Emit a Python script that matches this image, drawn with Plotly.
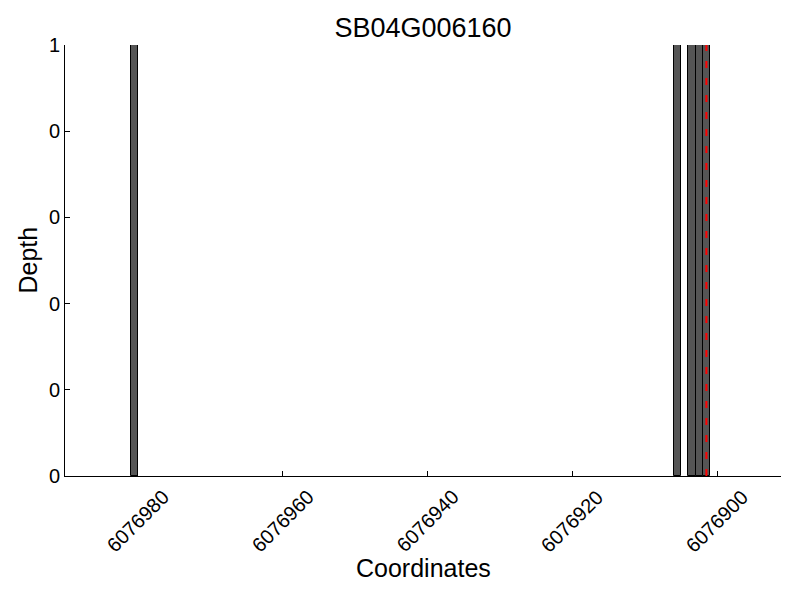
import plotly.graph_objects as go

title = "SB04G006160"
positions = [6076980, 6076905, 6076903, 6076902, 6076901]
depths = [1, 1, 1, 1, 1]
marker_pos = 6076901.5
x_ticks = [6076980, 6076960, 6076940, 6076920, 6076900]
y_ticks = [0, 0.2, 0.4, 0.6, 0.8, 1]
y_tick_text = ["0", "0", "0", "0", "0", "1"]

font = "Liberation Sans, Arial, sans-serif"

fig = go.Figure()
fig.add_trace(go.Bar(
    x=positions, y=depths, width=1, offset=0,
    marker=dict(color="#555555", line=dict(color="black", width=1)),
    showlegend=False, hoverinfo="skip",
))
fig.add_shape(type="line", x0=marker_pos, x1=marker_pos, y0=0, y1=1,
              xref="x", yref="y",
              line=dict(color="red", width=2, dash="7px,10px"))

# rotated x tick labels centred under their ticks
for v in x_ticks:
    fig.add_annotation(x=v, xref="x", y=0, yref="paper", yshift=-7,
                       text=str(v), textangle=-45, showarrow=False,
                       xanchor="center", yanchor="top",
                       font=dict(size=20, family=font, color="black"))
fig.add_annotation(x=0.5, xref="paper", y=0, yref="paper", yshift=-92,
                   text="Coordinates", showarrow=False,
                   xanchor="center", yanchor="middle",
                   font=dict(size=25, family=font, color="black"))
fig.add_annotation(x=0, xref="paper", y=0.5, yref="paper", xshift=-38,
                   text="Depth", textangle=-90, showarrow=False,
                   xanchor="center", yanchor="middle",
                   font=dict(size=25, family=font, color="black"))

fig.update_layout(
    width=800, height=600,
    paper_bgcolor="white", plot_bgcolor="white",
    margin=dict(l=65, r=19, t=45, b=124),
    font=dict(family=font, color="black"),
    title=dict(text=title, x=0.5, xref="paper", xanchor="center",
               y=0.954, yref="container", yanchor="middle",
               font=dict(size=27)),
    bargap=0,
)
fig.update_xaxes(
    range=[6076990.06, 6076891.2], automargin=False,
    tickvals=x_ticks, showticklabels=False,
    ticks="inside", ticklen=5, tickcolor="black",
    showline=True, linecolor="black", linewidth=1,
    showgrid=False, zeroline=False,
)
fig.update_yaxes(
    range=[0, 1], automargin=False,
    tickvals=y_ticks, ticktext=y_tick_text, tickfont=dict(size=20),
    ticks="inside", ticklen=5, tickcolor="black",
    showline=True, linecolor="black", linewidth=1,
    showgrid=False, zeroline=False,
)
fig.write_html("out.html", config={"displayModeBar": False},
               post_script="document.body.style.margin='0';document.body.style.overflow='hidden';")
